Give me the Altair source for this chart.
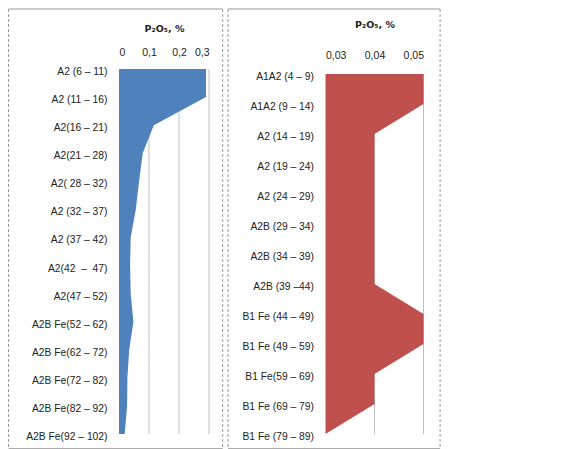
import altair as alt
import pandas as pd

# ---- data ----
left_cats = ["A2 (6 – 11)", "A2 (11 – 16)", "A2(16 – 21)", "A2(21 – 28)", "A2( 28 – 32)",
             "A2 (32 – 37)", "A2 (37 – 42)", "A2(42\u00a0 –\u00a0 47)", "A2(47 – 52)",
             "A2B Fe(52 – 62)", "A2B Fe(62 – 72)", "A2B Fe(72 – 82)", "A2B Fe(82 – 92)",
             "A2B Fe(92 – 102)"]
left_vals = [0.29, 0.29, 0.116, 0.079, 0.067, 0.056, 0.039, 0.037, 0.039, 0.048,
             0.034, 0.028, 0.027, 0.019]
left_ticks = [0, 0.1, 0.2, 0.3]

right_cats = ["A1A2 (4 – 9)", "A1A2 (9 – 14)", "A2 (14 – 19)", "A2 (19 – 24)", "A2 (24 – 29)",
              "A2B (29 – 34)", "A2B (34 – 39)", "A2B (39 –44)", "B1 Fe (44 – 49)",
              "B1 Fe (49 – 59)", "B1 Fe(59 – 69)", "B1 Fe (69 – 79)", "B1 Fe (79 – 89)"]
right_vals = [0.05, 0.05, 0.04, 0.04, 0.04, 0.04, 0.04, 0.04, 0.05, 0.05, 0.04, 0.04, 0.03]
right_ticks = [0.03, 0.04, 0.05]

TITLE = "P₂O₅, %"
FONT = "Liberation Sans"
TXT = "#222222"
GRID = "#bfbfbf"
BORDER = "#999999"


def panel(cats, vals, ticks, domain, width, y_range, color, x_offset, title_pad, fmt, border, base=None):
    height = 365
    df = pd.DataFrame({"cat": cats, "v": vals})
    gdf = pd.DataFrame({"v": ticks[1:]})
    bdf = pd.DataFrame({"a": [0]})

    xscale = alt.Scale(domain=domain, zero=False, nice=False)
    xaxis = alt.Axis(orient="top", values=ticks, title=TITLE, grid=False, domain=False,
                     ticks=False, offset=x_offset,
                     labelExpr=f"replace(format(datum.value, '{fmt}'), '.', ',')",
                     labelFont=FONT, labelFontSize=10.5, labelColor=TXT, labelPadding=12,
                     titleFont="DejaVu Sans", titleFontSize=9.5, titleFontWeight="bold",
                     titleColor=TXT, titlePadding=title_pad)

    grid = alt.Chart(gdf).mark_rule(color=GRID, strokeWidth=1).encode(
        x=alt.X("v:Q", scale=xscale, axis=xaxis),
        y=alt.value(y_range[0]), y2=alt.value(y_range[1]))

    enc = dict(
        x=alt.X("v:Q", scale=xscale, axis=xaxis),
        y=alt.Y("cat:N", sort=cats,
                scale=alt.Scale(type="point", padding=0, range=y_range),
                axis=alt.Axis(title=None, domain=False, ticks=False, grid=False,
                              labelFont=FONT, labelFontSize=10.3, labelColor=TXT,
                              labelPadding=12, labelOffset=2.5, labelLimit=300)))
    if base is not None:
        enc["x2"] = alt.datum(base)
    area = alt.Chart(df).mark_area(color=color, orient="horizontal", opacity=1).encode(**enc)

    l, r, t, b = border
    top = alt.Chart(bdf).mark_rule(color=BORDER, strokeWidth=1).encode(
        x=alt.value(l), x2=alt.value(r), y=alt.value(t))
    bot = alt.Chart(bdf).mark_rule(color=BORDER, strokeWidth=1).encode(
        x=alt.value(l), x2=alt.value(r), y=alt.value(b))
    lft = alt.Chart(bdf).mark_rule(color=BORDER, strokeWidth=1, strokeDash=[3, 2]).encode(
        x=alt.value(l), y=alt.value(t), y2=alt.value(b))
    rgt = alt.Chart(bdf).mark_rule(color=BORDER, strokeWidth=1, strokeDash=[3, 2]).encode(
        x=alt.value(r), y=alt.value(t), y2=alt.value(b))

    return alt.layer(grid, area, top, bot, lft, rgt).properties(width=width, height=height)


p1 = panel(left_cats, left_vals, left_ticks, [0, 0.3], 90, [0, 365], "#4F81BD",
           0, 14, ".1~f", (-110.5, 103.7, -60, 379.7))
p2 = panel(right_cats, right_vals, right_ticks, [0.03, 0.05], 98, [5, 365], "#C0504D",
           -3, 21, ".2f", (-97.4, 114.6, -60, 379.7), base=0.03)

chart = alt.hconcat(p1, p2, spacing=3.5).properties(padding=0).configure_view(stroke=None)

chart.save("out.html", embed_options={"renderer": "svg", "actions": False})
